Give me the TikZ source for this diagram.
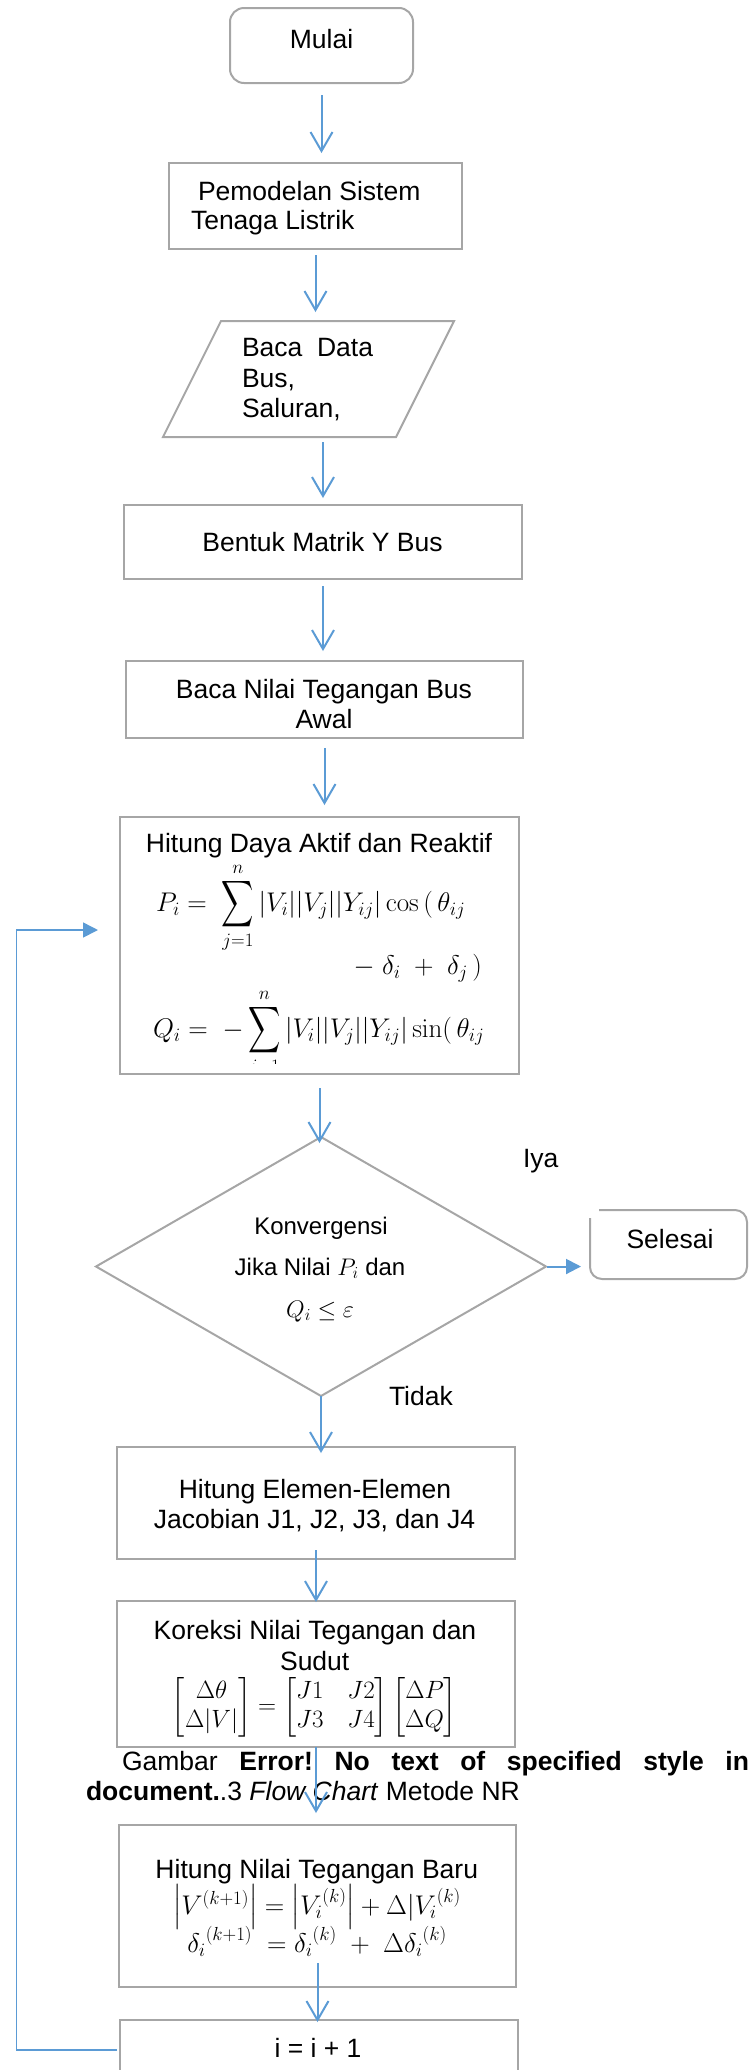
\RequirePackage{fix-cm}
\documentclass[tikz,border=0pt]{standalone}
\usepackage{amsmath}
\usepackage{graphicx}
\usepackage[no-math]{fontspec}
\setmainfont{Liberation Sans}
\usetikzlibrary{arrows.meta,calc}
\definecolor{boxgray}{HTML}{A6A6A6}
\definecolor{arrblue}{HTML}{5B9BD5}
\newcommand{\bigsumop}{\mathop{\vcenter{\hbox{\scalebox{0.9}[1.3]{$\displaystyle\sum$}}}}\limits}
\tikzset{
  shapebox/.style={draw=boxgray, line width=2pt, inner sep=0pt, outer sep=0pt},
  roundbox/.style={shapebox, rounded corners=14pt},
  frame/.style={inner sep=0pt, outer sep=0pt},
  lbl/.style={inner sep=0pt, outer sep=0pt, anchor=base, font=\fontsize{26.5}{30.5}\selectfont},
  lblsm/.style={inner sep=0pt, outer sep=0pt, anchor=base, font=\fontsize{24}{28}\selectfont},
  mth/.style={inner sep=0pt, outer sep=0pt, font=\fontsize{27}{31}\selectfont},
  flow/.style={draw=arrblue, line width=2pt, -{Straight Barb[length=19pt,width=22pt]}},
  side/.style={draw=arrblue, line width=2pt, -{Triangle[length=15pt,width=15pt]}},
  loopline/.style={draw=arrblue, line width=1.6pt, -{Triangle[length=15pt,width=15pt]}},
}
\begin{document}
\begin{tikzpicture}[x=1pt,y=-1pt]
\clip (0,0) rectangle (749,2070);
\useasboundingbox (0,0) rectangle (749,2070);

% Mulai
\node[roundbox, minimum width=183pt, minimum height=75pt] (mulai) at (321.5,45.5) {};
\node[lbl] (mulaiT) at (321.5,48) {Mulai};

% Pemodelan
\node[shapebox, minimum width=293pt, minimum height=86pt] (pem) at (315.5,206) {};
\node[lbl, anchor=base west] (pemT1) at (198,200) {Pemodelan Sistem};
\node[lbl, anchor=base west] (pemT2) at (191,229) {Tenaga Listrik};

% Baca data (parallelogram)
\node[frame, minimum width=291pt, minimum height=116pt] (bacad) at (308.5,379) {};
\draw[shapebox] ($(bacad.north west)+(58,0)$) -- (bacad.north east) -- ($(bacad.south east)+(-58,0)$) -- (bacad.south west) -- cycle;
\node[lbl, anchor=base west] (bacadT1) at (242,356) {Baca\ \ Data};
\node[lbl, anchor=base west] (bacadT2) at (242,387) {Bus,};
\node[lbl, anchor=base west] (bacadT3) at (242,417) {Saluran,};

% Bentuk Matrik
\node[shapebox, minimum width=398pt, minimum height=74pt] (bentuk) at (323,542) {};
\node[lbl] (bentukT) at (322.5,551) {Bentuk Matrik Y Bus};

% Baca nilai tegangan
\node[shapebox, minimum width=397pt, minimum height=77pt] (bnilai) at (324.5,699.5) {};
\node[lbl] (bnilaiT1) at (324,698) {Baca Nilai Tegangan Bus};
\node[lbl] (bnilaiT2) at (324,728) {Awal};

% Hitung daya
\node[shapebox, minimum width=399pt, minimum height=257pt] (hd) at (319.5,945.5) {};
\node[lbl] (hdT) at (319,852) {Hitung Daya Aktif dan Reaktif};
\node[mth, anchor=base west] (eqP) at (156,911) {$P_i =\ \bigsumop_{j=1}^{n}|V_i||V_j||Y_{ij}|\cos\,(\,\theta_{ij}$};
\node[mth, anchor=base east] (eqP2) at (482,974) {$-\ \delta_i\ +\ \delta_j\,)$};
\begin{scope}
\clip ($(hd.north west)+(2,2)$) rectangle ($(hd.south east)+(-2,-11)$);
\node[mth, anchor=base west] (eqQ) at (153,1037) {$Q_i =\ -\bigsumop_{j=1}^{n}|V_i||V_j||Y_{ij}|\sin(\,\theta_{ij}$};
\end{scope}

% Diamond
\node[frame, minimum width=450pt, minimum height=259pt] (conv) at (321,1266.5) {};
\draw[shapebox] (conv.north) -- (conv.east) -- (conv.south) -- (conv.west) -- cycle;
\node[lblsm] (convT1) at (321,1234) {Konvergensi};
\node[lblsm] (convT2) at (320,1275) {Jika Nilai $P_i$ dan};
\node[lblsm] (convT3) at (320,1317) {$Q_i \leq \varepsilon$};
\node[lbl, anchor=base west] (iya) at (523,1167) {Iya};
\node[lbl, anchor=base west] (tidak) at (389,1405) {Tidak};

% Selesai
\node[frame, minimum width=157pt, minimum height=69pt] (sel) at (668.5,1244.5) {};
\draw[shapebox, rounded corners=12pt] ($(sel.north west)+(9,0)$) -- (sel.north east) -- (sel.south east) -- (sel.south west) -- ($(sel.north west)+(0,8)$);
\node[lbl] (selT) at (670,1248) {Selesai};

% Elemen Jacobian
\node[shapebox, minimum width=398pt, minimum height=112pt] (elem) at (316,1503) {};
\node[lbl] (elemT1) at (315,1498) {Hitung Elemen-Elemen};
\node[lbl] (elemT2) at (314.5,1528) {Jacobian J1, J2, J3, dan J4};

% Koreksi
\node[shapebox, minimum width=398pt, minimum height=146pt] (kor) at (316,1674) {};
\node[lbl] (korT1) at (315,1639) {Koreksi Nilai Tegangan dan};
\node[lbl] (korT2) at (314.7,1670) {Sudut};
\node[mth, font=\fontsize{25}{29}\selectfont] (korEq) at (314.5,1707) {$\begin{bmatrix}\Delta\theta\\ \Delta|V|\end{bmatrix}=\begin{bmatrix}J1 & \hspace{14pt}J2\\ J3 & \hspace{14pt}J4\end{bmatrix}\begin{bmatrix}\Delta P\\ \Delta Q\end{bmatrix}$};

% Caption
\node[lbl, anchor=base west] (cap1) at (122,1770) {\frenchspacing\makebox[627pt][s]{Gambar \textbf{Error! No text of specified style in}}};
\node[lbl, anchor=base west] (cap2) at (86,1800) {\textbf{document.}.3 \textit{Flow Chart} Metode NR};

% Hitung tegangan baru
\node[shapebox, minimum width=397pt, minimum height=162pt] (baru) at (317.5,1906) {};
\node[lbl] (baruT) at (316.8,1878) {Hitung Nilai Tegangan Baru};
\node[mth, anchor=base] (baruEq1) at (317,1914) {$\left|V^{(k+1)}\right| = \left|{V_i}^{(k)}\right| + \Delta|{V_i}^{(k)}$};
\node[mth, anchor=base] (baruEq2) at (317,1952) {${\delta_i}^{(k+1)}\ = {\delta_i}^{(k)}\ +\ \Delta{\delta_i}^{(k)}$};

% i = i + 1
\node[shapebox, minimum width=398pt, minimum height=60pt] (iplus) at (319,2050) {};
\node[lbl] (iplusT) at (318,2057) {i = i + 1};

% Arrows
\draw[flow, shorten <=12pt, shorten >=10pt] (mulai.south) -- (mulai.south |- pem.north);
\draw[flow, shorten <=6pt, shorten >=9pt] (pem.south) -- (pem.south |- bacad.north);
\draw[flow, shorten <=5pt, shorten >=7pt] (bacad.south -| bentuk.north) -- (bentuk.north);
\draw[flow, shorten <=7pt, shorten >=10pt] (bentuk.south) -- (bentuk.south |- bnilai.north);
\draw[flow, shorten <=10pt, shorten >=12pt] (bnilai.south) -- (bnilai.south |- hd.north);
\draw[flow, shorten <=14pt, shorten >=-6pt] (hd.south) -- (hd.south |- conv.north);
\draw[flow, shorten <=0pt, shorten >=-6pt] (conv.south) -- (conv.south |- elem.north);
\draw[flow, shorten <=-9pt, shorten >=-1pt] (elem.south) -- (elem.south |- kor.north);
\draw[flow, shorten <=0pt, shorten >=12pt] (kor.south) -- (kor.south |- baru.north);
\draw[flow, shorten <=-24pt, shorten >=-2pt] (baru.south) -- (baru.south |- iplus.north);
\draw[side, shorten <=1pt, shorten >=9pt] (conv.east) -- (conv.east -| sel.west);

% Feedback loop
\coordinate (fbbot) at (16.5,2050);
\coordinate (fbtop) at (16.5,930);
\draw[loopline, shorten <=3pt, shorten >=22pt] (iplus.west) -- (fbbot) -- (fbtop) -- (fbtop -| hd.west);
\end{tikzpicture}
\end{document}
